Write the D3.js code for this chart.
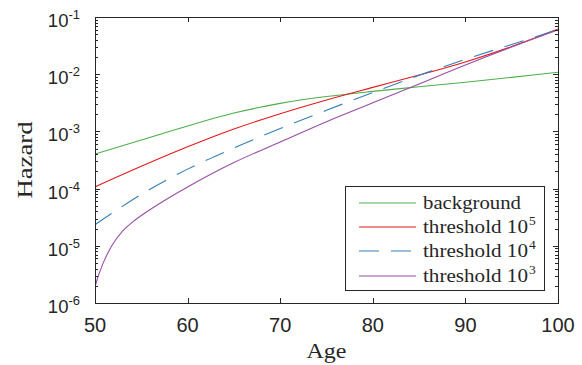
<!DOCTYPE html>
<html>
<head>
<meta charset="utf-8">
<script src="https://cdn.jsdelivr.net/npm/d3@7"></script>
<style>
	body { margin: 0; background: #fff; }
	svg { display: block; }
</style>
</head>
<body>
<div id="chart"></div>
<script>

var ages = [50, 55, 60, 65, 70, 75, 80, 85, 90, 95, 100];
var agesFine = [50, 50.25, 50.5, 51, 51.5, 52, 53, 54, 55, 57.5, 60, 65, 70, 75, 80, 85, 90, 95, 100];

var background = [4.03e-4, 7.08e-4, 1.245e-3, 2.09e-3, 3.09e-3, 4.07e-3, 5.01e-3, 6.03e-3, 7.24e-3, 8.81e-3, 1.08e-2];
var threshold5 = [1.07e-4, 2.45e-4, 5.37e-4, 1.10e-3, 2.04e-3, 3.55e-3, 5.89e-3, 9.66e-3, 1.64e-2, 3.05e-2, 6.17e-2];
var threshold4 = [2.34e-5, 7.94e-5, 2.19e-4, 5.13e-4, 1.12e-3, 2.34e-3, 4.79e-3, 9.55e-3, 1.82e-2, 3.31e-2, 6.03e-2];
var threshold3 = [1.91e-6, 2.63e-6, 3.47e-6, 5.50e-6, 8.13e-6, 1.12e-5, 1.82e-5, 2.57e-5, 3.39e-5, 6.20e-5,
	1.07e-4, 2.85e-4, 6.53e-4, 1.48e-3, 3.16e-3, 6.76e-3, 1.45e-2, 2.99e-2, 5.93e-2];

var xTickValues = [50, 60, 70, 80, 90, 100];
var yDecades = [1e-6, 1e-5, 1e-4, 1e-3, 1e-2, 1e-1];
var yExponents = ["-6", "-5", "-4", "-3", "-2", "-1"];

var legendNames = ["background", "threshold 10", "threshold 10", "threshold 10"];
var legendSup = ["", "5", "4", "3"];

var series = [
	{ x: ages, y: background, color: "#4daf4a", dash: null },
	{ x: ages, y: threshold5, color: "#e41a1c", dash: null },
	{ x: ages, y: threshold4, color: "#377eb8", dash: "20,12" },
	{ x: agesFine, y: threshold3, color: "#984ea3", dash: null }
];

var width = 582, height = 365;
var pLeft = 95, pRight = 558, pTop = 17, pBottom = 303;
var axisColor = "#262626";
var serif = "'Liberation Serif', 'Times New Roman', serif";
var sans = "'Liberation Sans', Arial, sans-serif";

var svg = d3.select("#chart").append("svg")
	.attr("width", width)
	.attr("height", height);

var x = d3.scaleLinear().domain([50, 100]).range([pLeft, pRight]);
var y = d3.scaleLog().domain([1e-6, 1e-1]).range([pBottom, pTop]);

svg.append("clipPath").attr("id", "plotclip")
	.append("rect")
	.attr("x", pLeft).attr("y", pTop)
	.attr("width", pRight - pLeft).attr("height", pBottom - pTop);

// curves
var line = d3.line().curve(d3.curveCatmullRom.alpha(0.5));

var plot = svg.append("g").attr("clip-path", "url(#plotclip)");
series.forEach(function(s){
	var pts = s.x.map(function(a, i){ return [x(a), y(s.y[i])]; });
	plot.append("path")
		.attr("d", line(pts))
		.attr("fill", "none")
		.attr("stroke", s.color)
		.attr("stroke-width", 1.1)
		.attr("stroke-dasharray", s.dash);
});

// box
svg.append("rect")
	.attr("x", pLeft + 0.5).attr("y", pTop + 0.5)
	.attr("width", pRight - pLeft).attr("height", pBottom - pTop)
	.attr("fill", "none")
	.attr("stroke", axisColor)
	.attr("stroke-width", 1);

// y ticks, both sides, pointing in
var yTicksAll = y.ticks();
var ticks = svg.append("g").attr("stroke", axisColor).attr("stroke-width", 1);
yTicksAll.forEach(function(v){
	var major = yDecades.indexOf(v) >= 0;
	var len = major ? 5 : 3;
	var yy = Math.round(y(v)) + 0.5;
	ticks.append("line").attr("x1", pLeft).attr("x2", pLeft + len).attr("y1", yy).attr("y2", yy);
	ticks.append("line").attr("x1", pRight).attr("x2", pRight - len).attr("y1", yy).attr("y2", yy);
});

// x ticks top and bottom
xTickValues.forEach(function(v){
	var xx = Math.round(x(v)) + 0.5;
	ticks.append("line").attr("x1", xx).attr("x2", xx).attr("y1", pBottom).attr("y2", pBottom - 5);
	ticks.append("line").attr("x1", xx).attr("x2", xx).attr("y1", pTop).attr("y2", pTop + 5);
});

// x tick labels
svg.append("g").selectAll("text")
	.data(xTickValues)
	.enter()
	.append("text")
	.attr("x", function(d){ return x(d); })
	.attr("y", pBottom + 29)
	.attr("text-anchor", "middle")
	.attr("font-family", sans)
	.attr("font-size", 20)
	.attr("fill", axisColor)
	.text(function(d){ return d; });

// y tick labels as 10^n
var yl = svg.append("g").selectAll("text")
	.data(yDecades)
	.enter()
	.append("text")
	.attr("x", pLeft - 15)
	.attr("y", function(d){ return y(d) + 10; })
	.attr("text-anchor", "end")
	.attr("font-family", sans)
	.attr("fill", axisColor);
yl.append("tspan").attr("font-size", 18.5).text("10");
yl.append("tspan").attr("font-size", 13).attr("dy", -8)
	.text(function(d, i){ return yExponents[i]; });

// axis labels
svg.append("text")
	.attr("transform", "translate(32," + ((pTop + pBottom) / 2) + ") rotate(-90)")
	.attr("text-anchor", "middle")
	.attr("font-family", serif)
	.attr("font-size", 22)
	.attr("textLength", 77)
	.attr("lengthAdjust", "spacingAndGlyphs")
	.attr("fill", axisColor)
	.text("Hazard");

svg.append("text")
	.attr("x", (pLeft + pRight) / 2)
	.attr("y", 358)
	.attr("text-anchor", "middle")
	.attr("font-family", serif)
	.attr("font-size", 22)
	.attr("textLength", 40)
	.attr("lengthAdjust", "spacingAndGlyphs")
	.attr("fill", axisColor)
	.text("Age");

// legend
var lg = svg.append("g");
lg.append("rect")
	.attr("x", 345.5).attr("y", 186.5)
	.attr("width", 199).attr("height", 104)
	.attr("fill", "#fff")
	.attr("stroke", axisColor)
	.attr("stroke-width", 1);

var rowY = [203, 227, 251, 276];
series.forEach(function(s, i){
	lg.append("line")
		.attr("x1", 359).attr("x2", 416)
		.attr("y1", rowY[i]).attr("y2", rowY[i])
		.attr("stroke", s.color)
		.attr("stroke-width", 1.1)
		.attr("stroke-dasharray", s.dash);
	lg.append("text")
		.attr("x", 423)
		.attr("y", rowY[i] + 6)
		.attr("font-family", serif)
		.attr("font-size", 18.5)
		.attr("textLength", legendSup[i] ? 105 : 98)
		.attr("lengthAdjust", "spacingAndGlyphs")
		.attr("fill", axisColor)
		.text(legendNames[i]);
	if (legendSup[i]) {
		lg.append("text")
			.attr("x", 529)
			.attr("y", rowY[i] - 2)
			.attr("font-family", serif)
			.attr("font-size", 13.5)
			.attr("fill", axisColor)
			.text(legendSup[i]);
	}
});

</script>
</body>
</html>
